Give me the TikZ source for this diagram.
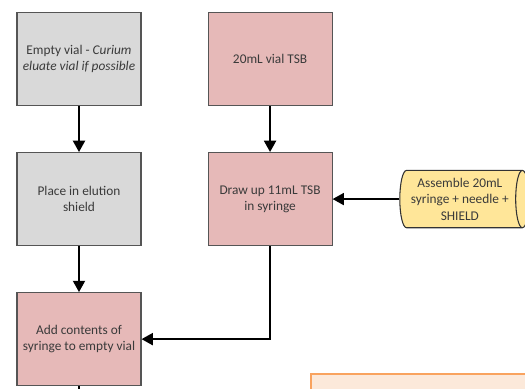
\documentclass[tikz,border=0pt]{standalone}
\usepackage{fontspec}
\setmainfont{Carlito}
\usepackage{tikz}
\usetikzlibrary{positioning, arrows.meta, shapes.geometric}
\definecolor{vialGray}{HTML}{D9D9D9}
\definecolor{tsbPink}{HTML}{E6B9B8}
\definecolor{prepYellow}{HTML}{FFE699}
\definecolor{noteFill}{HTML}{FCE9DA}
\definecolor{noteLine}{HTML}{F9A35F}
\definecolor{edgeGray}{HTML}{555555}
\definecolor{labelGray}{HTML}{3A3A3A}

\begin{document}
\begin{tikzpicture}[
        font=\fontsize{10pt}{12.3pt}\selectfont,
        >=Triangle,
        node distance=34.5pt and 49.5pt,
        step box/.style={draw=edgeGray, line width=0.8pt, text=labelGray,
                   minimum width=93pt, minimum height=69.75pt,
                   align=center, inner sep=2pt},
        empty/.style={step box, fill=vialGray},
        tsb/.style={step box, fill=tsbPink},
        prep/.style={draw=black!80, line width=0.8pt, fill=prepYellow,
                     text=labelGray, cylinder, shape aspect=0.3, align=center,
                     minimum width=43pt, minimum height=97pt, inner sep=1pt},
        arrow/.style={-{Triangle[width=9pt,length=8.5pt]}, line width=1.5pt, draw=black},
      ]
      \clip (0,0) rectangle (393.75pt,-291.75pt);
      \node[empty] (vial) at (59.25pt,-44.25pt) {%
        Empty vial - \textit{Curium}\\\textit{eluate vial if possible}%
      };
      \node[tsb, right=of vial] (tsb) {20mL vial TSB};
      \node[empty, below=of vial] (shield) {Place in elution\\shield};
      \node[tsb, below=of tsb] (draw) {Draw up 11mL TSB\\in syringe};
      \node[prep, right=50pt of draw] (syringe) {%
        Assemble 20mL\\syringe + needle +\\SHIELD%
      };
      \node[tsb, below=of shield] (add) {Add contents of\\syringe to empty vial};
      \node[draw=noteLine, line width=1.5pt, fill=noteFill, anchor=north west,
            minimum width=200pt, minimum height=40pt] (note) at (232.5pt,-279.5pt) {};
      \coordinate[below=30pt of add] (next);
      \draw[arrow] (vial)    -- (shield);
      \draw[arrow] (tsb)     -- (draw);
      \draw[arrow] (syringe) -- (draw);
      \draw[arrow] (shield)  -- (add);
      \draw[arrow] (draw.south) |- (add.east);
      \draw[arrow] (add)     -- (next);
    \end{tikzpicture}
\end{document}
